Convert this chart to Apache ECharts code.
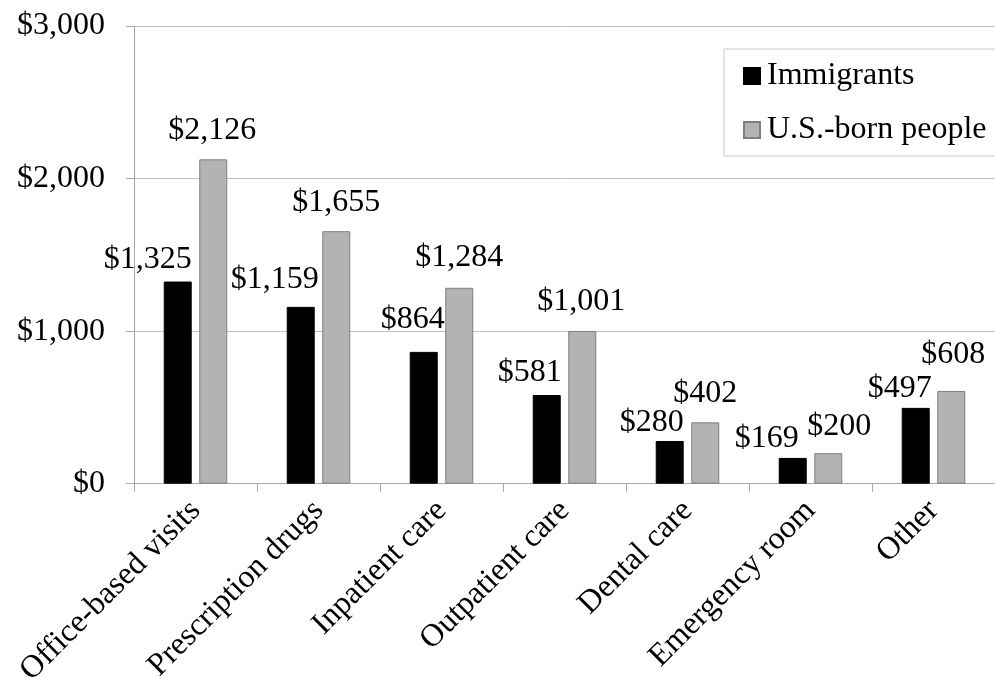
<!DOCTYPE html>
<html><head><meta charset="utf-8">
<script src="https://cdn.jsdelivr.net/npm/echarts@6/dist/echarts.min.js"></script>
<style>html,body{margin:0;padding:0;background:#fff}#c{width:995px;height:689px}</style>
</head><body><div id="c"></div>
<script>
const categories = ['Office-based visits','Prescription drugs','Inpatient care','Outpatient care','Dental care','Emergency room','Other'];
const immigrants = [1325,1159,864,581,280,169,497];
const usBorn = [2126,1655,1284,1001,402,200,608];
const yTicks = [0,1000,2000,3000];

// label placement (layout only): horizontal shift and gap above bar
const immShiftX = [-30,-26,-11,-17,-18,-26,-16];
const immGap = [12,17,22,12,8,9,9];
const usShiftX = [-1,0,0,-1,0,11,2];
const usGap = [19,19,20,19,19,17,26];

const fmt = v => '$' + v.toLocaleString('en-US');
const font = 'Liberation Serif, Times New Roman, serif';
const lblBase = {show:true,position:'top',formatter:p=>fmt(p.value),fontSize:32,color:'#000',fontFamily:font};
const mk = (vals, sx, g) => vals.map((v,i)=>({value:v,label:Object.assign({},lblBase,{distance:g[i]-6,offset:[sx[i],0]})}));

const chart = echarts.init(document.getElementById('c'));
chart.setOption({
  animation:false,
  textStyle:{fontFamily:font},
  grid:{left:134,right:0,top:26,bottom:205,containLabel:false},
  legend:{
    orient:'vertical',left:724,top:49,
    data:['Immigrants','U.S.-born people'],
    borderColor:'#c8c8c8',borderWidth:1,
    padding:[9,14,8,19],itemGap:18,
    itemWidth:16,itemHeight:16,
    icon:'rect',
    textStyle:{fontFamily:font,fontSize:32,lineHeight:36,color:'#000',padding:[0,0,0,2]}
  },
  xAxis:{
    type:'category',data:categories,
    axisLine:{lineStyle:{color:'#a6a6a6'}},
    axisTick:{show:true,length:8,lineStyle:{color:'#a6a6a6'}},
    axisLabel:{rotate:45,fontSize:32,color:'#000',fontFamily:font,margin:22,interval:0}
  },
  yAxis:{
    type:'value',min:yTicks[0],max:yTicks[yTicks.length-1],interval:1000,
    axisLine:{show:true,lineStyle:{color:'#a6a6a6'}},
    axisTick:{show:true,length:8,lineStyle:{color:'#a6a6a6'}},
    splitLine:{lineStyle:{color:'#c0c0c0'}},
    axisLabel:{formatter:fmt,fontSize:32,color:'#000',fontFamily:font,margin:29}
  },
  series:[
    {name:'Immigrants',type:'bar',data:mk(immigrants,immShiftX,immGap),barWidth:28,barGap:'27%',
     itemStyle:{color:'#000',borderColor:'#000',borderWidth:1},label:lblBase},
    {name:'U.S.-born people',type:'bar',data:mk(usBorn,usShiftX,usGap),barWidth:28,
     itemStyle:{color:'#b3b3b3',borderColor:'#7f7f7f',borderWidth:1},label:lblBase}
  ]
});
</script></body></html>
